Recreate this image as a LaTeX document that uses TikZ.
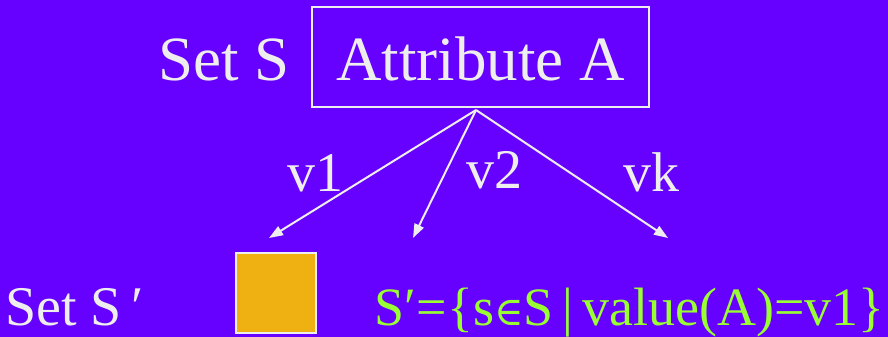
\documentclass[tikz,border=0pt]{standalone}
\usepackage{fontspec}
\setmainfont{Liberation Serif}
\newfontfamily\symfam{DejaVu Serif}
\usetikzlibrary{
  positioning,
  arrows.meta
}
\definecolor{dtBack}{HTML}{6600FF}
\definecolor{dtText}{HTML}{EEEEEE}
\definecolor{dtOrange}{HTML}{EEB111}
\definecolor{dtGreen}{HTML}{99FF33}

\begin{document}
\begin{tikzpicture}[
  x=1pt, y=-1pt,
  every node/.style={inner sep=0pt, text=dtText},
  big/.style={font=\fontsize{63}{70}\selectfont},
  small/.style={font=\fontsize{56}{62}\selectfont},
  attrbox/.style={
    rectangle, draw=dtText, line width=2.2pt,
    minimum width=337pt, minimum height=100pt
  },
  leaf/.style={
    rectangle, draw=dtText, fill=dtOrange, line width=2pt,
    minimum size=80pt
  },
  arrow/.style={-{Triangle[length=14pt,width=10pt]}, draw=dtText, line width=2pt}
]
 % Background
 \fill[dtBack] (0,0) rectangle (888,337);
 \useasboundingbox (0,0) rectangle (888,337);

 % Top: set and attribute
 \node[big, anchor=base west] (setS) at (158,80) {Set S};
 \node[attrbox] (attr) at (480.5,57) {};
 \node[big, anchor=base] (attrlbl) at (480.5,80) {Attribute A};

 % Branches, one per value
 \coordinate (fork) at (476,110);
 \coordinate (e1) at (269,238);
 \coordinate (e2) at (413,238);
 \coordinate (ek) at (668,238);
 \draw[arrow] (fork) -- (e1);
 \draw[arrow] (fork) -- (e2);
 \draw[arrow] (fork) -- (ek);

 \node[small, anchor=base west] (v1) at (287,191) {v1};
 \node[small, anchor=base west] (v2) at (466,188) {v2};
 \node[small, anchor=base west] (vk) at (623,191) {vk};

 % Bottom: the subset S'
 \node[small, anchor=base west] (setSp) at (5,325) {Set S\,′};
 \node[leaf] (sq) at (276,293) {};
 \node[anchor=base east, text=dtGreen, font=\fontsize{54}{60}\selectfont] (rule) at (885,325)
  {S′=\{s{\symfam\fontsize{40}{44}\selectfont ∈}S\,|\,value(A)=v1\}};
\end{tikzpicture}
\end{document}
